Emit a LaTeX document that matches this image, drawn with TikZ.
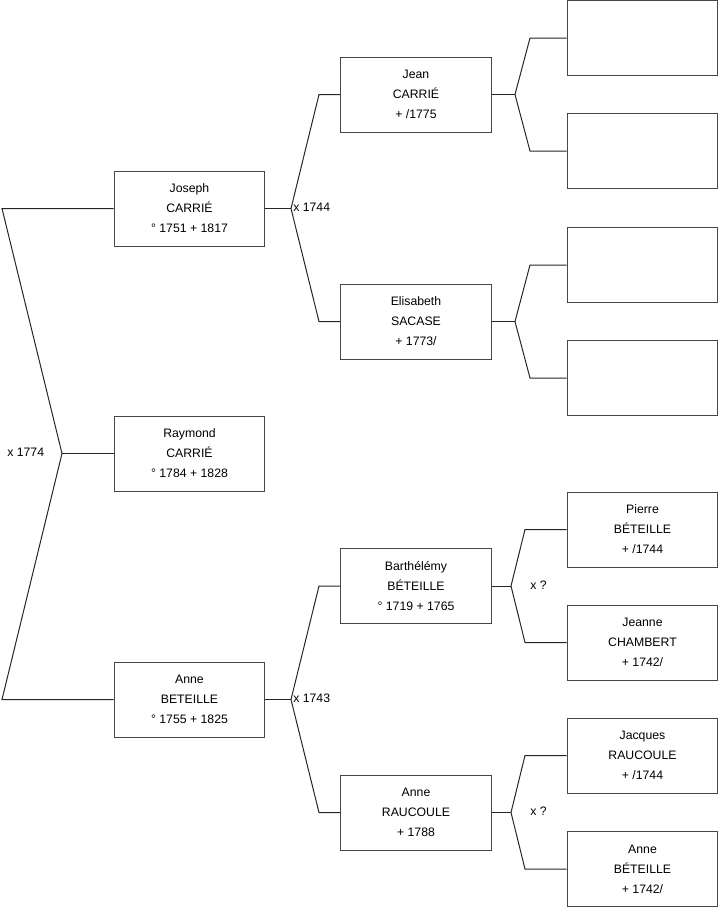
\documentclass[tikz,border=0pt]{standalone}
\usepackage{fontspec}
\setmainfont{Liberation Sans}
\begin{document}
\begin{tikzpicture}[x=0.75pt,y=-0.75pt,
  person/.style={draw=black!72,line width=0.75pt,fill=white,rectangle,inner sep=0pt,
    minimum width=113pt,minimum height=56.25pt,align=center,
    font=\fontsize{9.2pt}{15pt}\selectfont},
  link/.style={draw=black!85,line width=0.75pt},
  lbl/.style={font=\fontsize{9.2pt}{11pt}\selectfont,inner sep=0pt,anchor=west}]
\useasboundingbox (0,0) rectangle (719,908);
% generation 1
\node[person] (joseph) at (189.5,208.5) {Joseph\\CARRIÉ\\° 1751 + 1817};
\node[person] (raymond) at (189.5,453.5) {Raymond\\CARRIÉ\\° 1784 + 1828};
\node[person] (anne) at (189.5,699.5) {Anne\\BETEILLE\\° 1755 + 1825};
% generation 2
\node[person] (jean) at (416,94.5) {Jean\\CARRIÉ\\+ /1775};
\node[person] (elis) at (416,321.5) {Elisabeth\\SACASE\\+ 1773/};
\node[person] (barth) at (416,586) {Barthélémy\\BÉTEILLE\\° 1719 + 1765};
\node[person] (anner) at (416,812.5) {Anne\\RAUCOULE\\+ 1788};
% generation 3
\node[person] (g1) at (642.5,38) {};
\node[person] (g2) at (642.5,151) {};
\node[person] (g3) at (642.5,265) {};
\node[person] (g4) at (642.5,378) {};
\node[person] (g5) at (642.5,529.5) {Pierre\\BÉTEILLE\\+ /1744};
\node[person] (g6) at (642.5,642.5) {Jeanne\\CHAMBERT\\+ 1742/};
\node[person] (g7) at (642.5,755.5) {Jacques\\RAUCOULE\\+ /1744};
\node[person] (g8) at (642.5,869) {Anne\\BÉTEILLE\\+ 1742/};
% junction coordinates
\coordinate (aT) at (2,208.5);
\coordinate (aV) at (62,453.5);
\coordinate (aB) at (2,699.5);
\coordinate (bV) at (291,208.5);
\coordinate (bT) at (319,94.5);
\coordinate (bB) at (319,321.5);
\coordinate (cV) at (291,699.5);
\coordinate (cT) at (319,586);
\coordinate (cB) at (319,812.5);
\coordinate (dV) at (515,94.5);
\coordinate (dT) at (530,38);
\coordinate (dB) at (530,151);
\coordinate (eV) at (515,321.5);
\coordinate (eT) at (530,265);
\coordinate (eB) at (530,378);
\coordinate (fV) at (511,586);
\coordinate (fT) at (525,529.5);
\coordinate (fB) at (525,642.5);
\coordinate (hV) at (511,812.5);
\coordinate (hT) at (525,755.5);
\coordinate (hB) at (525,869);
% connectors
\draw[link] (joseph.west) -- (aT) -- (aV) -- (aB) -- (anne.west);
\draw[link] (aV) -- (raymond.west);
\draw[link] (joseph.east) -- (bV);
\draw[link] (jean.west) -- (bT) -- (bV) -- (bB) -- (elis.west);
\draw[link] (anne.east) -- (cV);
\draw[link] (barth.west) -- (cT) -- (cV) -- (cB) -- (anner.west);
\draw[link] (jean.east) -- (dV);
\draw[link] (g1.west) -- (dT) -- (dV) -- (dB) -- (g2.west);
\draw[link] (elis.east) -- (eV);
\draw[link] (g3.west) -- (eT) -- (eV) -- (eB) -- (g4.west);
\draw[link] (barth.east) -- (fV);
\draw[link] (g5.west) -- (fT) -- (fV) -- (fB) -- (g6.west);
\draw[link] (anner.east) -- (hV);
\draw[link] (g7.west) -- (hT) -- (hV) -- (hB) -- (g8.west);
% marriage labels
\node[lbl] (m1) at (7,452) {x 1774};
\node[lbl] (m2) at (293,207) {x 1744};
\node[lbl] (m3) at (293,698) {x 1743};
\node[lbl] (m4) at (530,585) {x ?};
\node[lbl] (m5) at (530,811) {x ?};
\end{tikzpicture}
\end{document}
